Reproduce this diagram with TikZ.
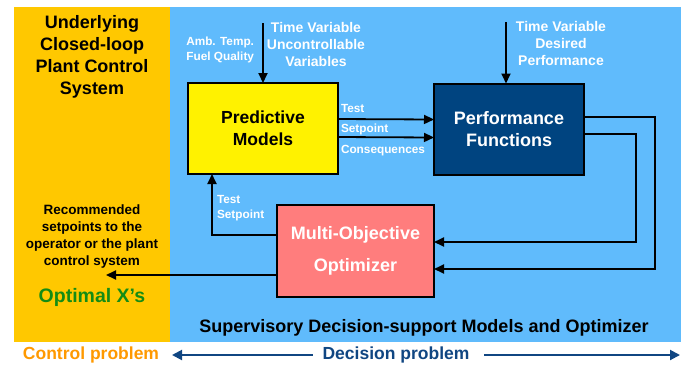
\documentclass[tikz,border=0pt]{standalone}
\usepackage{fontspec}
\setmainfont{Liberation Sans}
\usetikzlibrary{positioning, arrows.meta, calc}
\definecolor{panelorange}{RGB}{255,200,0}
\definecolor{panelblue}{RGB}{96,187,252}
\definecolor{boxnavy}{RGB}{0,68,128}
\definecolor{boxpink}{RGB}{255,125,125}
\definecolor{optgreen}{RGB}{20,140,20}
\definecolor{ctrlorange}{RGB}{255,153,0}
\definecolor{decblue}{RGB}{16,70,130}
\tikzset{
  model/.style={rectangle, draw=black, line width=2pt, minimum width=150pt, minimum height=91pt, text centered, align=center, font=\bfseries\fontsize{17.5}{22}\selectfont},
  predbox/.style={model, fill=yellow},
  perfbox/.style={model, fill=boxnavy, text=white, font=\bfseries\fontsize{18}{22}\selectfont},
  optbox/.style={model, fill=boxpink, text=white, minimum width=157pt, minimum height=92pt, font=\bfseries\fontsize{18}{32}\selectfont},
  lbl/.style={text=white, align=center, font=\bfseries\fontsize{14}{17}\selectfont},
  small/.style={text=white, align=left, font=\bfseries\fontsize{11.8}{14.5}\selectfont},
  title/.style={align=center, font=\bfseries\fontsize{18}{22}\selectfont},
  arrow/.style={line width=1.8pt, -{Triangle[length=10pt, width=9pt]}},
  bluearrow/.style={line width=2pt, draw=decblue, -{Triangle[length=10pt, width=10pt]}}
}
\begin{document}
\begin{tikzpicture}[x=1pt, y=-1pt, inner sep=0pt, outer sep=0pt]
        \useasboundingbox (0,0) rectangle (686,368);
        % panels
        \fill[panelorange] (14,7) rectangle (170,342);
        \fill[panelblue] (170,7) rectangle (681,342);

        \node (pred) [predbox] at (263,128.5) {Predictive\\Models};
        \node (perf) [perfbox] at (509,129) {Performance\\Functions};
        \node (opt) [optbox] at (355.5,251) {Multi-Objective\\Optimizer};

        \node (under) [title] at (92,57) {Underlying\\Closed-loop\\Plant Control\\System};
        \node (amb) [small, align=right, anchor=east] at (254,50) {Amb. Temp.\\Fuel Quality};
        \node (tvu) [lbl] at (316,44) {Time Variable\\Uncontrollable\\Variables};
        \node (tvd) [lbl] at (561,43) {Time Variable\\Desired\\Performance};
        \node (test) [small, anchor=west] at (341,108) {Test};
        \node (setp) [small, anchor=west] at (341,129) {Setpoint};
        \node (cons) [small, anchor=west] at (341,151) {Consequences};
        \node (testsp) [small, anchor=west] at (217,208) {Test\\Setpoint};
        \node (rec) [align=center, font=\bfseries\fontsize{13.5}{17}\selectfont] at (92,237) {Recommended\\setpoints to the\\operator or the plant\\control system};
        \node (optx) [text=optgreen, font=\bfseries\fontsize{19.5}{22}\selectfont] at (92,297) {Optimal X’s};
        \node (superv) [font=\bfseries\fontsize{18}{20}\selectfont] at (424,328) {Supervisory Decision-support Models and Optimizer};
        \node (ctrl) [text=ctrlorange, font=\bfseries\fontsize{17.5}{20}\selectfont] at (91,355) {Control problem};
        \node (dec) [text=decblue, font=\bfseries\fontsize{17.5}{20}\selectfont] at (396,355) {Decision problem};

        \coordinate (ambin) at (263,23);
        \coordinate (desin) at (506,22);
        \coordinate (recpt) at (106,275);
        \coordinate (decend) at (680,355);

        \draw [arrow] (ambin) -- (ambin |- pred.north);
        \draw [arrow] (desin) -- (desin |- perf.north);
        \draw [arrow] ([yshift=9.5pt]pred.east) -- ([yshift=9.5pt]perf.west);
        \draw [arrow] ([yshift=-8.5pt]pred.east) -- ([yshift=-8.5pt]perf.west);
        \draw [arrow] ([yshift=12pt]perf.east) -- ++(71,0) |- ([yshift=-18pt]opt.east);
        \draw [arrow] ([yshift=-5pt]perf.east) -- ++(52,0) |- ([yshift=9pt]opt.east);
        \draw [arrow] ([yshift=16pt]opt.west) -| ([xshift=-51pt]pred.south);
        \draw [arrow] ([yshift=-24pt]opt.west) -- (recpt);
        \draw [bluearrow] ([xshift=-10pt]dec.west) -- (172,355);
        \draw [bluearrow] ([xshift=15pt]dec.east) -- (decend);
\end{tikzpicture}
\end{document}
